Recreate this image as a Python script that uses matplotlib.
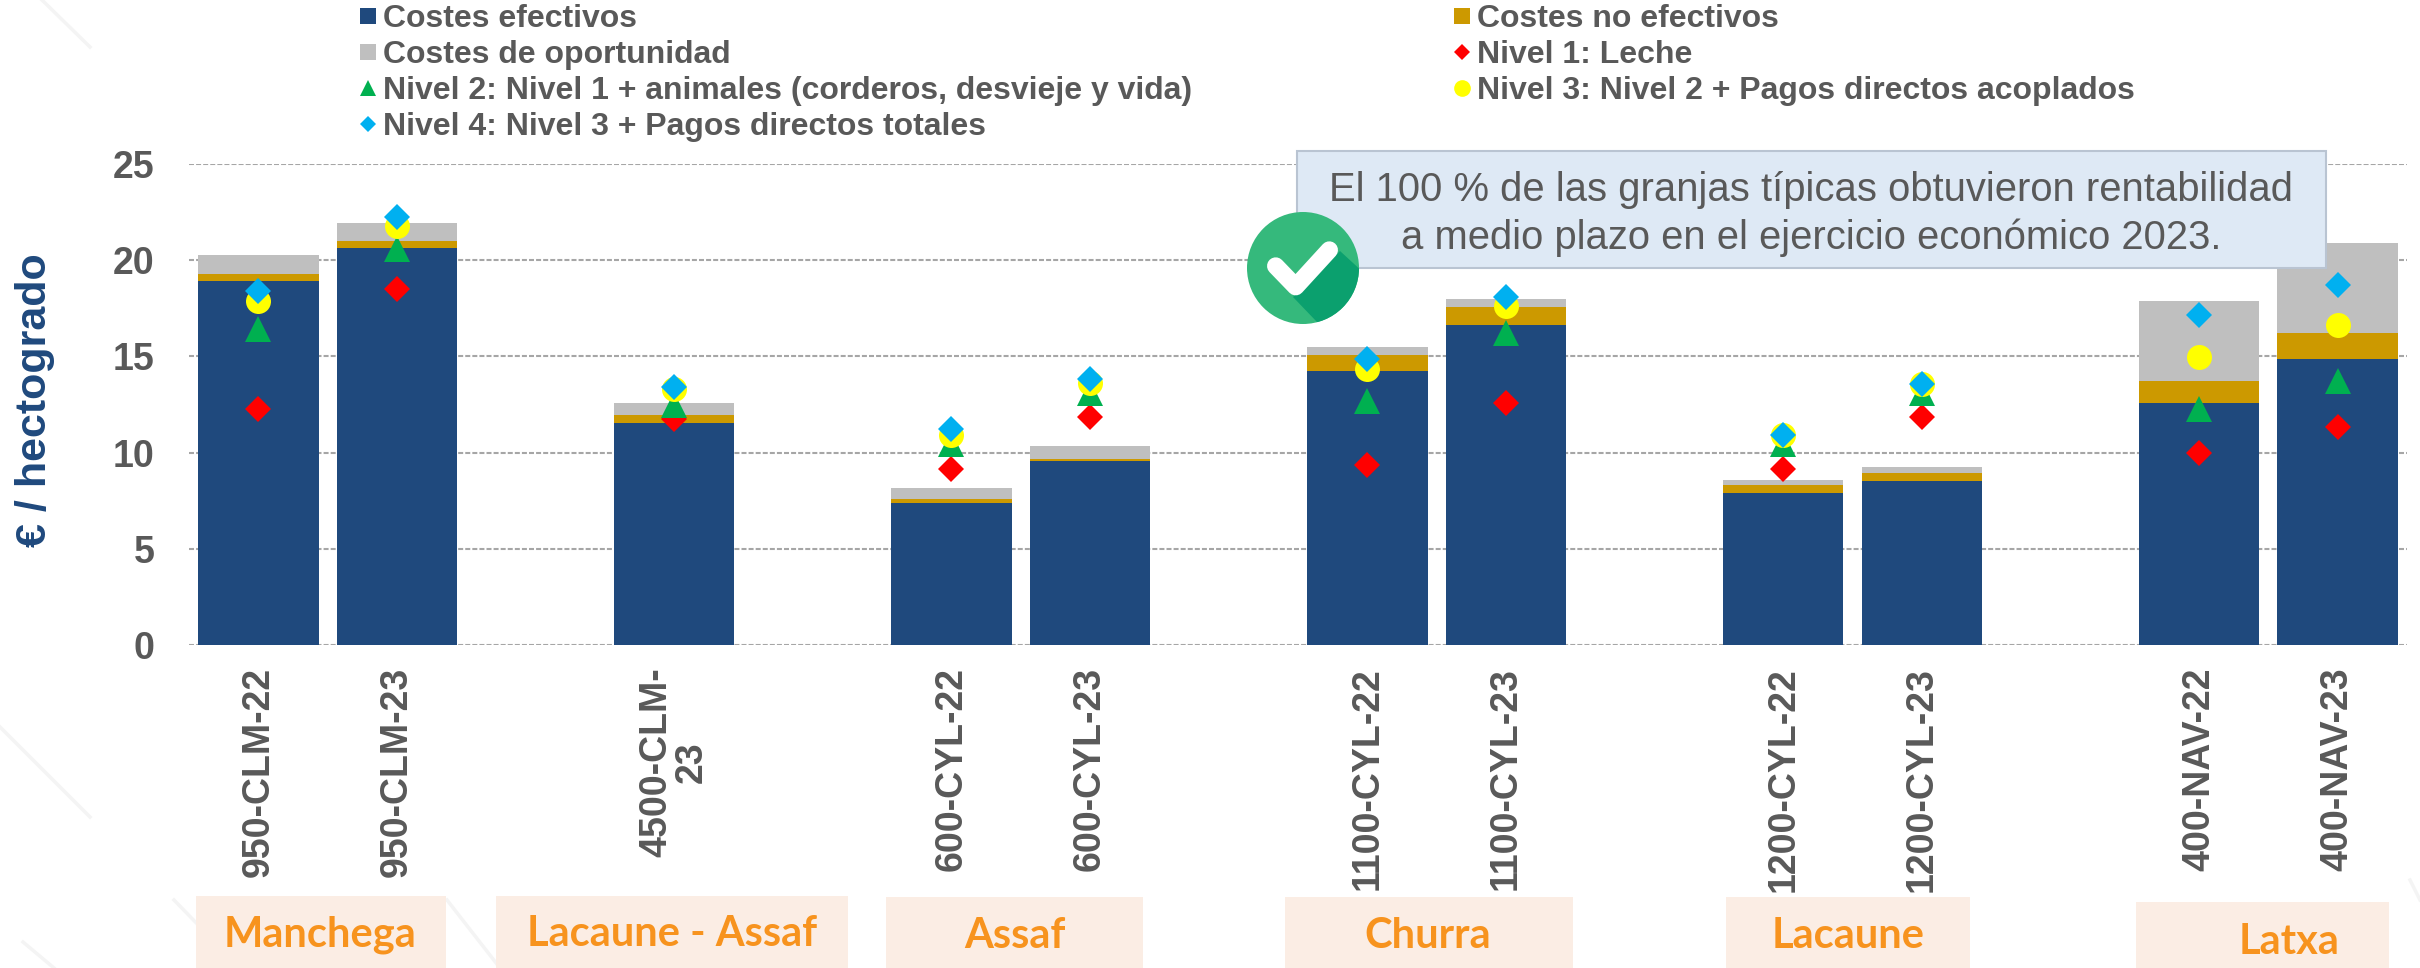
import matplotlib
matplotlib.use("Agg")
from matplotlib import pyplot as plt
from matplotlib.lines import Line2D
from matplotlib.patches import Rectangle, Circle, Polygon
import numpy as np

plt.rcParams['font.family'] = ['Liberation Sans', 'DejaVu Sans']

positions = [0, 1, 3, 5, 6, 8, 9, 11, 12, 14, 15]
labels = ["950-CLM-22", "950-CLM-23", "4500-CLM-\n23", "600-CYL-22", "600-CYL-23",
          "1100-CYL-22", "1100-CYL-23", "1200-CYL-22", "1200-CYL-23", "400-NAV-22", "400-NAV-23"]

# stacked costs, euro / hectogrado
efectivos = [18.90, 20.65, 11.55, 7.38, 9.56, 14.24, 16.63, 7.92, 8.52, 12.58, 14.86]
no_efectivos = [0.40, 0.33, 0.40, 0.21, 0.11, 0.83, 0.94, 0.40, 0.44, 1.14, 1.36]
oportunidad = [0.97, 0.95, 0.65, 0.55, 0.66, 0.42, 0.41, 0.24, 0.31, 4.16, 4.68]

nivel1 = [12.28, 18.50, 11.76, 9.16, 11.85, 9.37, 12.60, 9.16, 11.85, 10.00, 11.35]
nivel2 = [16.44, 20.58, 12.47, 10.43, 13.10, 12.70, 16.20, 10.43, 13.10, 12.28, 13.74]
nivel3 = [17.90, 21.80, 13.30, 10.90, 13.60, 14.35, 17.60, 10.90, 13.55, 14.97, 16.63]
nivel4 = [18.40, 22.25, 13.40, 11.24, 13.84, 14.86, 18.10, 10.93, 13.55, 17.15, 18.70]

razas = ["Manchega", "Lacaune - Assaf", "Assaf", "Churra", "Lacaune", "Latxa"]

navy = '#1F497D'
gold = '#CC9900'
grey = '#BFBFBF'
text_grey = '#595959'
orange = '#F7931E'

W, H = 2420, 968
fig = plt.figure(figsize=(W / 100, H / 100), dpi=100, facecolor='white')

# faint watermark streaks behind everything, pixel coordinates
back = fig.add_axes([0, 0, 1, 1], zorder=0)
back.set_xlim(0, W)
back.set_ylim(H, 0)
back.axis('off')
streak_x = [(42, 90), (0, 90), (23, 54), (174, 240), (447, 500), (2410, 2420)]
streak_y = [(0, 47), (727, 817), (942, 968), (900, 968), (900, 968), (880, 900)]
for sx, sy in zip(streak_x, streak_y):
    back.plot(sx, sy, color='#F4F4F4', lw=2.5)

ax = fig.add_axes([189 / W, 1 - 645 / H, (2407 - 189) / W, (645 - 164) / H], zorder=1)
ax.patch.set_alpha(0)

pos = np.array(positions)
ef = np.array(efectivos)
ne = np.array(no_efectivos)
op = np.array(oportunidad)
ax.bar(pos, ef, width=0.87, color=navy, zorder=2)
ax.bar(pos, ne, width=0.87, bottom=ef, color=gold, zorder=2)
ax.bar(pos, op, width=0.87, bottom=ef + ne, color=grey, zorder=2)

ax.plot(pos, nivel1, ls='', marker='D', ms=13.5, color='#FF0000', mew=0, zorder=3)
ax.plot(pos, nivel2, ls='', marker='^', ms=18.5, color='#00B050', mew=0, zorder=4)
ax.plot(pos, nivel3, ls='', marker='o', ms=18, color='#FFFF00', mew=0, zorder=5)
ax.plot(pos, nivel4, ls='', marker='D', ms=13.5, color='#00B0F0', mew=0, zorder=6)

ax.set_xlim(-0.5, 15.5)
ax.set_ylim(0, 25)
ax.set_yticks([0, 5, 10, 15, 20, 25])
ax.set_xticks(positions)
ax.set_xticklabels(labels, rotation=90, fontsize=27, fontweight='bold', color=text_grey,
                   ha='center', va='top', multialignment='center', linespacing=1.0)
ax.tick_params(axis='x', length=0, pad=16)
ax.tick_params(axis='y', length=0, pad=25, labelsize=27, labelcolor=text_grey)
for t in ax.get_yticklabels():
    t.set_fontweight('bold')
ax.grid(axis='y', color='#A6A6A6', ls=(0, (2.4, 1)), lw=1.5, zorder=1)
for s in ax.spines.values():
    s.set_visible(False)
ax.set_axisbelow(True)

fig.text(35 / W, 1 - 400 / H, "€ / hectogrado", rotation=90, fontsize=31, fontweight='bold',
         color=navy, ha='center', va='center')

handles = [
    Line2D([], [], ls='', marker='s', ms=11, color=navy, mew=0, label="Costes efectivos"),
    Line2D([], [], ls='', marker='s', ms=11, color=grey, mew=0, label="Costes de oportunidad"),
    Line2D([], [], ls='', marker='^', ms=12, color='#00B050', mew=0, label="Nivel 2: Nivel 1 + animales (corderos, desvieje y vida)"),
    Line2D([], [], ls='', marker='D', ms=8.5, color='#00B0F0', mew=0, label="Nivel 4: Nivel 3 + Pagos directos totales"),
    Line2D([], [], ls='', marker='s', ms=11, color=gold, mew=0, label="Costes no efectivos"),
    Line2D([], [], ls='', marker='D', ms=8.5, color='#FF0000', mew=0, label="Nivel 1: Leche"),
    Line2D([], [], ls='', marker='o', ms=12, color='#FFFF00', mew=0, label="Nivel 3: Nivel 2 + Pagos directos acoplados"),
]
fig.legend(handles=handles, ncol=2, loc='upper left', bbox_to_anchor=(353.6 / W, 1 - 4 / H),
           frameon=False, prop={'size': 23, 'weight': 'bold'}, labelcolor=text_grey,
           handlelength=0.9, handletextpad=0.02, columnspacing=8.0, labelspacing=0.19,
           borderpad=0, borderaxespad=0)

# overlay in pixel coordinates for the boxes and the tick icon
over = fig.add_axes([0, 0, 1, 1], zorder=10)
over.set_xlim(0, W)
over.set_ylim(H, 0)
over.axis('off')
over.patch.set_alpha(0)

box_x0 = [196, 496, 886, 1285, 1726, 2136]
box_x1 = [446, 848, 1143, 1573, 1970, 2389]
box_y0 = [896, 896, 897, 897, 897, 902]
text_x = [320, 672, 1015, 1428, 1848, 2289]
text_y = [947, 946, 948, 948, 948, 954]
for i, raza in enumerate(razas):
    over.add_patch(Rectangle((box_x0[i], box_y0[i]), box_x1[i] - box_x0[i], 968 - box_y0[i], fc='#FBEDE4', ec='none'))
    over.text(text_x[i], text_y[i], raza, fontsize=30, fontweight='bold', color=orange, family='Lato',
              ha='center', va='baseline')

over.add_patch(Rectangle((1297, 151), 1029, 117, fc='#DEE9F5', ec='#B9C4D2', lw=1.5))
over.text(1811, 190, "El 100 % de las granjas típicas obtuvieron rentabilidad", fontsize=28.8, color=text_grey, ha='center', va='center')
over.text(1811, 238, "a medio plazo en el ejercicio económico 2023.", fontsize=28.8, color=text_grey, ha='center', va='center')

# check icon
disc = Circle((1303, 268), 56, fc='#35B97C', ec='none')
over.add_patch(disc)
shade = Polygon([(1340, 251), (1365, 274), (1365, 325), (1317, 322), (1293, 297)], fc='#0BA06E', ec='none')
over.add_patch(shade)
shade.set_clip_path(disc)
over.plot([1275.7, 1295.7, 1329.3], [266, 286.7, 250], color='white', lw=12.5,
          solid_capstyle='round', solid_joinstyle='round')

fig.savefig('out.png', dpi=100, facecolor='white')
